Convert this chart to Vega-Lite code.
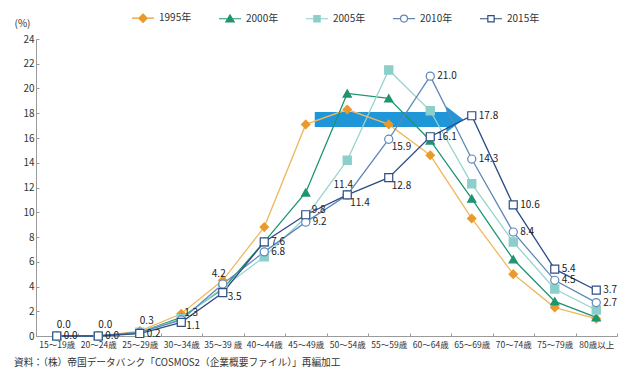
{
  "$schema": "https://vega.github.io/schema/vega-lite/v6.json",
  "width": 581,
  "height": 297,
  "autosize": {"type": "none"},
  "padding": {"left": 36, "top": 39, "right": 23, "bottom": 44},
  "background": "white",
  "config": {
    "font": "Noto Sans CJK JP",
    "view": {"stroke": null},
    "legend": {
      "orient": "none",
      "legendX": 102,
      "legendY": -26,
      "direction": "horizontal",
      "labelFontSize": 10,
      "labelColor": "#333333",
      "labelFont": "Noto Sans CJK JP",
      "symbolSize": 49,
      "symbolStrokeWidth": 1.2,
      "labelOffset": 11,
      "columnPadding": 24
    }
  },
  "title": {
    "text": "資料：（株）帝国データバンク「COSMOS2（企業概要ファイル）」再編加工",
    "orient": "bottom",
    "anchor": "start",
    "fontSize": 9.7,
    "fontWeight": "normal",
    "color": "#333333",
    "font": "Noto Sans CJK JP",
    "dx": 0,
    "offset": 9
  },
  "data": {
    "values": [
      {"age": "15～19歳", "1995年": 0.0, "2000年": 0.0, "2005年": 0.0, "2010年": 0.0, "2015年": 0.0},
      {"age": "20～24歳", "1995年": 0.0, "2000年": 0.0, "2005年": 0.0, "2010年": 0.0, "2015年": 0.0},
      {"age": "25～29歳", "1995年": 0.4, "2000年": 0.3, "2005年": 0.3, "2010年": 0.3, "2015年": 0.2},
      {"age": "30～34歳", "1995年": 1.8, "2000年": 1.5, "2005年": 1.4, "2010年": 1.3, "2015年": 1.1},
      {"age": "35～39 歳", "1995年": 4.5, "2000年": 3.8, "2005年": 3.9, "2010年": 4.2, "2015年": 3.5},
      {"age": "40～44歳", "1995年": 8.8, "2000年": 7.6, "2005年": 6.4, "2010年": 6.8, "2015年": 7.6},
      {"age": "45～49歳", "1995年": 17.1, "2000年": 11.6, "2005年": 9.6, "2010年": 9.2, "2015年": 9.8},
      {"age": "50～54歳", "1995年": 18.3, "2000年": 19.6, "2005年": 14.2, "2010年": 11.4, "2015年": 11.4},
      {"age": "55～59歳", "1995年": 17.1, "2000年": 19.2, "2005年": 21.5, "2010年": 15.9, "2015年": 12.8},
      {"age": "60～64歳", "1995年": 14.6, "2000年": 15.8, "2005年": 18.2, "2010年": 21.0, "2015年": 16.1},
      {"age": "65～69歳", "1995年": 9.5, "2000年": 11.1, "2005年": 12.3, "2010年": 14.3, "2015年": 17.8},
      {"age": "70～74歳", "1995年": 5.0, "2000年": 6.2, "2005年": 7.6, "2010年": 8.4, "2015年": 10.6},
      {"age": "75～79歳", "1995年": 2.3, "2000年": 2.8, "2005年": 3.8, "2010年": 4.5, "2015年": 5.4},
      {"age": "80歳以上", "1995年": 1.4, "2000年": 1.5, "2005年": 2.1, "2010年": 2.7, "2015年": 3.7}
    ]
  },
  "transform": [
    {"fold": ["1995年", "2000年", "2005年", "2010年", "2015年"], "as": ["year", "value"]}
  ],
  "encoding": {
    "x": {
      "field": "age",
      "type": "ordinal",
      "title": null,
      "sort": ["15～19歳", "20～24歳", "25～29歳", "30～34歳", "35～39 歳", "40～44歳", "45～49歳", "50～54歳", "55～59歳", "60～64歳", "65～69歳", "70～74歳", "75～79歳", "80歳以上"],
      "scale": {
        "type": "band",
        "paddingInner": 0,
        "paddingOuter": 0,
        "domain": ["15～19歳", "20～24歳", "25～29歳", "30～34歳", "35～39 歳", "40～44歳", "45～49歳", "50～54歳", "55～59歳", "60～64歳", "65～69歳", "70～74歳", "75～79歳", "80歳以上"]
      },
      "axis": {
        "labelAngle": 0,
        "labelFontSize": 8.5,
        "labelColor": "#333333",
        "labelPadding": 7,
        "labelOverlap": false,
        "tickBand": "extent",
        "tickSize": -3,
        "tickColor": "#9a9a9a",
        "domainColor": "#9a9a9a",
        "grid": false
      }
    },
    "y": {
      "field": "value",
      "type": "quantitative",
      "title": "(%)",
      "scale": {"domain": [0, 24], "nice": false},
      "axis": {
        "values": [0, 2, 4, 6, 8, 10, 12, 14, 16, 18, 20, 22, 24],
        "labelFontSize": 10,
        "labelColor": "#333333",
        "labelPadding": 5,
        "tickSize": -3,
        "tickColor": "#9a9a9a",
        "domainColor": "#9a9a9a",
        "grid": false,
        "titleAngle": 0,
        "titleX": -22,
        "titleY": -16,
        "titleAlign": "left",
        "titleBaseline": "middle",
        "titleFontSize": 10,
        "titleFontWeight": "normal",
        "titleColor": "#333333"
      }
    }
  },
  "resolve": {"scale": {"shape": "independent", "stroke": "independent", "fill": "independent", "size": "independent"}},
  "layer": [
    {
      "data": {"values": [{"age": "45～49歳", "age_end": "65～69歳", "value": 17.5}]},
      "mark": {"type": "rule", "color": "#1f96d8", "strokeWidth": 15, "strokeCap": "butt", "xOffset": 9, "x2Offset": -24},
      "encoding": {
        "x2": {"field": "age_end"}
      }
    },
    {
      "data": {"values": [{"age": "65～69歳", "value": 17.5}]},
      "mark": {"type": "point", "shape": "M-1.95,-1L-0.65,0L-1.95,1Z", "size": 676, "filled": true, "fill": "#1f96d8", "strokeWidth": 0, "opacity": 1}
    },
    {
      "mark": {"type": "line", "strokeWidth": 1.3},
      "encoding": {
        "stroke": {
          "field": "year", "type": "nominal", "legend": null,
          "scale": {"domain": ["1995年", "2000年", "2005年", "2010年", "2015年"], "range": ["#f0b860", "#1e9570", "#96d4d0", "#5f87b8", "#2d4d85"]}
        }
      }
    },
    {
      "mark": {"type": "point", "filled": true, "opacity": 1, "strokeWidth": 1.2},
      "encoding": {
        "shape": {
          "field": "year", "type": "nominal", "legend": null,
          "scale": {"domain": ["1995年", "2000年", "2005年", "2010年", "2015年"], "range": ["diamond", "triangle-up", "square", "circle", "square"]}
        },
        "stroke": {
          "field": "year", "type": "nominal", "legend": null,
          "scale": {"domain": ["1995年", "2000年", "2005年", "2010年", "2015年"], "range": ["#e99a2a", "#1e9570", "#8ccfca", "#5f87b8", "#2d4d85"]}
        },
        "fill": {
          "field": "year", "type": "nominal", "legend": null,
          "scale": {"domain": ["1995年", "2000年", "2005年", "2010年", "2015年"], "range": ["#e99a2a", "#1e9570", "#8ccfca", "#ffffff", "#ffffff"]}
        },
        "size": {
          "field": "year", "type": "nominal", "legend": null,
          "scale": {"domain": ["1995年", "2000年", "2005年", "2010年", "2015年"], "range": [70, 64, 40, 42, 42]}
        }
      }
    },
    {
      "transform": [{"filter": "false"}],
      "mark": {"type": "point", "filled": true, "opacity": 1, "strokeWidth": 1.2},
      "encoding": {
        "shape": {
          "field": "year", "type": "nominal", "legend": {"title": null},
          "scale": {"domain": ["1995年", "2000年", "2005年", "2010年", "2015年"], "range": [
            "M-3.15,0H-1.2M1.2,0H3.15M0,-1.2L1.2,0L0,1.2L-1.2,0Z",
            "M-3.15,0H-0.6M0.6,0H3.15M0,-1.1L1.2,0.9L-1.2,0.9Z",
            "M-3.15,0H-0.9M0.9,0H3.15M-0.9,-0.9H0.9V0.9H-0.9Z",
            "M-3.15,0H-1M1,0H3.15M-1,0A1,1 0 1,0 1,0A1,1 0 1,0 -1,0Z",
            "M-3.15,0H-0.9M0.9,0H3.15M-0.9,-0.9H0.9V0.9H-0.9Z"
          ]}
        },
        "stroke": {
          "field": "year", "type": "nominal", "legend": {"title": null},
          "scale": {"domain": ["1995年", "2000年", "2005年", "2010年", "2015年"], "range": ["#e99a2a", "#1e9570", "#8ccfca", "#5f87b8", "#2d4d85"]}
        },
        "fill": {
          "field": "year", "type": "nominal", "legend": {"title": null},
          "scale": {"domain": ["1995年", "2000年", "2005年", "2010年", "2015年"], "range": ["#e99a2a", "#1e9570", "#8ccfca", "#ffffff", "#ffffff"]}
        }
      }
    },
    {
      "transform": [{"filter": {"or": [
        {"and": [{"field": "year", "equal": "2010年"}, {"field": "age", "oneOf": ["40～44歳", "45～49歳", "60～64歳", "65～69歳", "70～74歳", "75～79歳", "80歳以上"]}]},
        {"and": [{"field": "year", "equal": "2015年"}, {"field": "age", "oneOf": ["15～19歳", "20～24歳", "25～29歳", "40～44歳", "60～64歳", "65～69歳", "70～74歳", "75～79歳", "80歳以上"]}]}
      ]}}],
      "mark": {"type": "text", "align": "left", "baseline": "middle", "dx": 7, "dy": 0, "fontSize": 10, "color": "#222222"},
      "encoding": {"text": {"field": "value", "type": "quantitative", "format": ".1f"}}
    },
    {
      "transform": [{"filter": {"and": [{"field": "year", "equal": "2015年"}, {"field": "age", "oneOf": ["45～49歳"]}]}}],
      "mark": {"type": "text", "align": "left", "baseline": "middle", "dx": 6, "dy": -5, "fontSize": 10, "color": "#222222"},
      "encoding": {"text": {"field": "value", "type": "quantitative", "format": ".1f"}}
    },
    {
      "transform": [{"filter": {"and": [{"field": "year", "equal": "2010年"}, {"field": "age", "oneOf": ["30～34歳"]}]}}],
      "mark": {"type": "text", "align": "left", "baseline": "middle", "dx": 3, "dy": -7, "fontSize": 10, "color": "#222222"},
      "encoding": {"text": {"field": "value", "type": "quantitative", "format": ".1f"}}
    },
    {
      "transform": [{"filter": {"and": [{"field": "year", "equal": "2015年"}, {"field": "age", "oneOf": ["30～34歳", "35～39 歳"]}]}}],
      "mark": {"type": "text", "align": "left", "baseline": "middle", "dx": 5, "dy": 4, "fontSize": 10, "color": "#222222"},
      "encoding": {"text": {"field": "value", "type": "quantitative", "format": ".1f"}}
    },
    {
      "transform": [{"filter": {"or": [
        {"and": [{"field": "year", "equal": "2015年"}, {"field": "age", "oneOf": ["50～54歳", "55～59歳"]}]},
        {"and": [{"field": "year", "equal": "2010年"}, {"field": "age", "oneOf": ["55～59歳"]}]}
      ]}}],
      "mark": {"type": "text", "align": "left", "baseline": "middle", "dx": 3, "dy": 8, "fontSize": 10, "color": "#222222"},
      "encoding": {"text": {"field": "value", "type": "quantitative", "format": ".1f"}}
    },
    {
      "transform": [{"filter": {"and": [{"field": "year", "equal": "2010年"}, {"field": "age", "oneOf": ["15～19歳", "20～24歳", "25～29歳"]}]}}],
      "mark": {"type": "text", "align": "center", "baseline": "middle", "dx": 7, "dy": -11, "fontSize": 10, "color": "#222222"},
      "encoding": {"text": {"field": "value", "type": "quantitative", "format": ".1f"}}
    },
    {
      "transform": [{"filter": {"and": [{"field": "year", "equal": "2010年"}, {"field": "age", "oneOf": ["35～39 歳", "50～54歳"]}]}}],
      "mark": {"type": "text", "align": "center", "baseline": "middle", "dx": -4, "dy": -10, "fontSize": 10, "color": "#222222"},
      "encoding": {"text": {"field": "value", "type": "quantitative", "format": ".1f"}}
    }
  ]
}
